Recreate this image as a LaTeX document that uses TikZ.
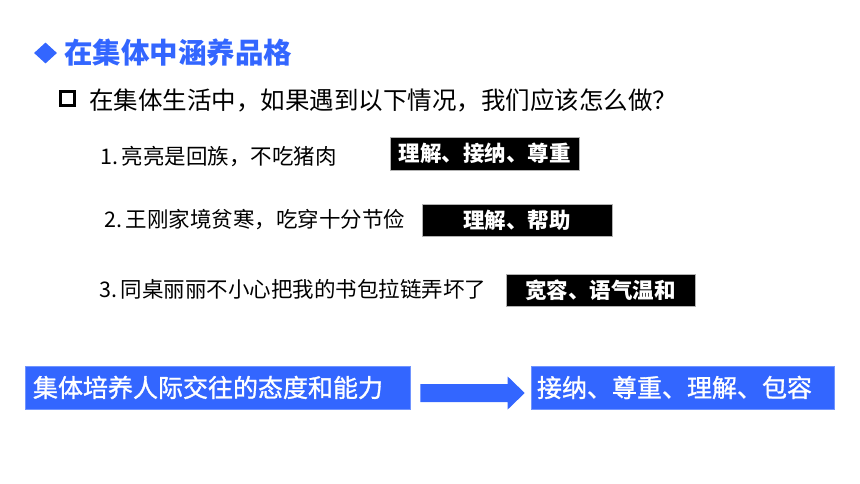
\documentclass[tikz,border=0pt]{standalone}
\usepackage{fontspec}
\newfontfamily\cjk{Noto Sans CJK SC}
\newfontfamily\cjkm{Noto Sans CJK SC}[FakeBold=1.2]
\usetikzlibrary{shapes.geometric,calc}
\definecolor{blu}{RGB}{51,102,255}
\tikzset{
  titletext/.style={anchor=base west,inner sep=0pt,text=blu,font=\cjk\bfseries\fontsize{28.5}{30}\selectfont},
  subtext/.style={anchor=base west,inner sep=0pt,font=\cjk\fontsize{24.5}{26}\selectfont},
  itemtext/.style={anchor=base west,inner sep=0pt,font=\cjk\fontsize{21.5}{23}\selectfont},
  answerbox/.style={fill=black,draw=gray!60,line width=0.6pt,text=white,inner sep=0pt,font=\cjk\bfseries\fontsize{21.5}{23}\selectfont},
  bluebox/.style={fill=blu,draw=blu!70!white,line width=0.6pt,text=white,minimum height=43pt,align=left,inner ysep=0pt,font=\cjkm\fontsize{25}{27}\selectfont},
}
\begin{document}
\begin{tikzpicture}[x=1pt,y=-1pt]
\useasboundingbox (0,0) rectangle (860,484);
% title
\node[diamond,fill=blu,minimum width=23pt,minimum height=21pt,inner sep=0pt] (dia) at (45.5,53) {};
\node[titletext] (title) at (64,64) {在集体中涵养品格};
% subtitle
\node[draw=black,line width=3pt,minimum size=14pt,inner sep=0pt] (sq) at (67.5,99) {};
\node[subtext] (sub) at (89,110) {在集体生活中，如果遇到以下情况，我们应该怎么做？};
% items
\node[itemtext] (i1) at (100,165) {1.\,亮亮是回族，不吃猪肉};
\node[itemtext] (i2) at (104,227) {2.\,王刚家境贫寒，吃穿十分节俭};
\node[itemtext] (i3) at (99,297) {3.\,同桌丽丽不小心把我的书包拉链弄坏了};
% answers
\node[answerbox,minimum width=189pt,minimum height=33pt] (a1) at (484.5,153.5) {理解、接纳、尊重};
\node[answerbox,minimum width=190pt,minimum height=32pt] (a2) at (517,220) {理解、帮助};
\node[answerbox,minimum width=189pt,minimum height=32pt] (a3) at (600.5,290) {宽容、语气温和};
% bottom boxes
\node[bluebox,minimum width=385pt,inner xsep=8pt,text width=369pt] (lbox) at (217.5,387.5) {集体培养人际交往的态度和能力};
\node[bluebox,minimum width=303pt,inner xsep=6pt,text width=291pt] (rbox) at (682.5,387.5) {接纳、尊重、理解、包容};
% arrow
\coordinate (as) at ([xshift=10pt,yshift=-5.5pt]lbox.east);
\coordinate (ae) at ([xshift=-6pt,yshift=-5.5pt]rbox.west);
\fill[blu] ([yshift=9pt]as) -- ([xshift=-17pt,yshift=9pt]ae) -- ([xshift=-17pt,yshift=16.5pt]ae) -- (ae)
  -- ([xshift=-17pt,yshift=-16.5pt]ae) -- ([xshift=-17pt,yshift=-9pt]ae) -- ([yshift=-9pt]as) -- cycle;
\end{tikzpicture}
\end{document}
